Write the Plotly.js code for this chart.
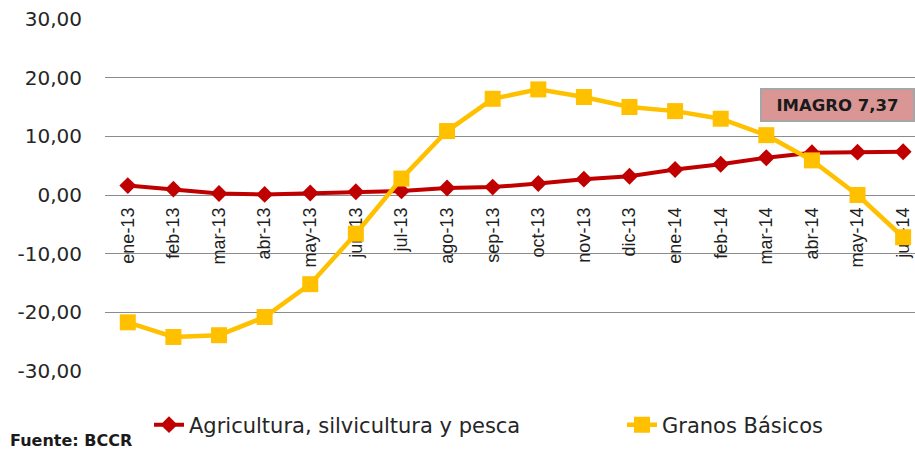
<!DOCTYPE html>
<html>
<head>
<meta charset="utf-8">
<script src="https://cdn.plot.ly/plotly-3.0.1.min.js"></script>
<style>html,body{margin:0;padding:0;background:#fff;}#chart{width:915px;height:449px;}</style>
</head>
<body>
<div id="chart"></div>
<script>
const categories = ['ene-13','feb-13','mar-13','abr-13','may-13','jun-13','jul-13','ago-13','sep-13','oct-13','nov-13','dic-13','ene-14','feb-14','mar-14','abr-14','may-14','jun-14'];
const agricultura = [1.6, 1.0, 0.25, 0.1, 0.35, 0.55, 0.7, 1.2, 1.35, 1.95, 2.7, 3.2, 4.35, 5.25, 6.35, 7.2, 7.3, 7.37];
const granos = [-21.7, -24.2, -23.9, -20.8, -15.2, -6.6, 2.8, 10.9, 16.4, 18.0, 16.7, 15.0, 14.3, 13.0, 10.2, 5.9, 0.0, -7.2];
const yTicks = [-30, -20, -10, 0, 10, 20, 30];
const yTickLabels = ['-30,00', '-20,00', '-10,00', '0,00', '10,00', '20,00', '30,00'];
const seriesNames = ['Agricultura, silvicultura y pesca', 'Granos Básicos'];
const boxLabel = 'IMAGRO 7,37';
const sourceLabel = 'Fuente: BCCR';

const traces = [
  {
    x: categories, y: agricultura, name: seriesNames[0], type: 'scatter', mode: 'lines+markers',
    line: {color: '#c00000', width: 4},
    marker: {symbol: 'diamond', size: 13, color: '#c00000'},
    legend: 'legend'
  },
  {
    x: categories, y: granos, name: seriesNames[1], type: 'scatter', mode: 'lines+markers',
    line: {color: '#ffc000', width: 4.5},
    marker: {symbol: 'square', size: 16, color: '#ffc000'},
    legend: 'legend2'
  }
];

const legendFont = {family: 'DejaVu Sans, sans-serif', size: 21, color: '#262626'};

const layout = {
  width: 915, height: 449,
  margin: {l: 105, r: 0, t: 19, b: 78},
  paper_bgcolor: '#fff', plot_bgcolor: '#fff',
  showlegend: true,
  xaxis: {
    type: 'category', range: [-0.5, 17.26], anchor: 'free', position: 0.5,
    tickangle: -90, ticks: '', ticklabelstandoff: 8, showgrid: false, showline: false,
    zeroline: false, layer: 'below traces',
    tickfont: {family: 'Liberation Sans, Arial, sans-serif', size: 18, color: '#1f1f1f'}
  },
  yaxis: {
    range: [-30, 30], tickvals: yTicks, ticktext: yTickLabels,
    showgrid: true, gridcolor: '#8c8c8c', gridwidth: 1,
    zeroline: true, zerolinecolor: '#8c8c8c', zerolinewidth: 1,
    showline: false, ticks: '', ticklabelstandoff: 22,
    tickfont: {family: 'DejaVu Sans, sans-serif', size: 20, color: '#262626'}
  },
  legend: {
    orientation: 'h', xref: 'container', yref: 'container',
    x: 149/915, y: 1 - 425/449, xanchor: 'left', yanchor: 'middle',
    font: legendFont, bgcolor: 'rgba(0,0,0,0)'
  },
  legend2: {
    orientation: 'h', xref: 'container', yref: 'container',
    x: 622/915, y: 1 - 425/449, xanchor: 'left', yanchor: 'middle',
    font: legendFont, bgcolor: 'rgba(0,0,0,0)'
  },
  annotations: [
    {
      xref: 'paper', yref: 'paper', x: 1, y: 1 - (105 - 19) / 352,
      xanchor: 'right', yanchor: 'middle', showarrow: false,
      text: '<b>' + boxLabel + '</b>', width: 151, height: 30,
      bgcolor: '#d99694', bordercolor: '#a6a6a6', borderwidth: 2, borderpad: 0,
      font: {family: 'DejaVu Sans, sans-serif', size: 16.5, color: '#1a1a1a'}
    },
    {
      xref: 'paper', yref: 'paper', x: (8 - 105) / 810, y: 1 - (440 - 19) / 352,
      xanchor: 'left', yanchor: 'middle', showarrow: false,
      text: '<b>' + sourceLabel + '</b>',
      font: {family: 'DejaVu Sans, sans-serif', size: 16, color: '#1a1a1a'}
    }
  ]
};

Plotly.newPlot('chart', traces, layout, {displayModeBar: false, staticPlot: true});
</script>
</body>
</html>
